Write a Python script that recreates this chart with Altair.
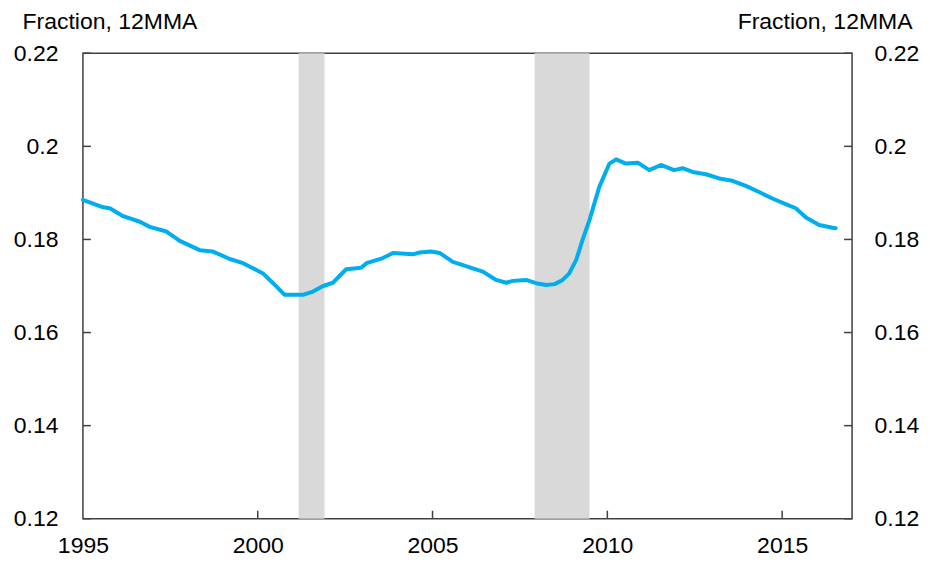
import altair as alt
import pandas as pd

# ---- data ----
years = [1995.0, 1995.58, 1995.77, 1996.15, 1996.63, 1996.91, 1997.39, 1997.77, 1998.34,
         1998.72, 1999.2, 1999.58, 2000.15, 2000.44, 2000.77, 2001.29, 2001.58, 2001.87,
         2002.15, 2002.53, 2002.96, 2003.11, 2003.58, 2003.87, 2004.44, 2004.63, 2004.96,
         2005.2, 2005.58, 2005.87, 2006.15, 2006.44, 2006.82, 2007.11, 2007.29, 2007.68,
         2007.96, 2008.25, 2008.49, 2008.72, 2008.91, 2009.11, 2009.29, 2009.49, 2009.77,
         2010.06, 2010.25, 2010.53, 2010.87, 2011.2, 2011.53, 2011.91, 2012.15, 2012.44,
         2012.82, 2013.2, 2013.58, 2013.96, 2014.34, 2014.72, 2015.1, 2015.39, 2015.68,
         2016.06, 2016.44, 2016.53]
values = [0.1885, 0.1869, 0.1867, 0.1850, 0.1838, 0.1827, 0.1817, 0.1797, 0.1777,
          0.1774, 0.1758, 0.1749, 0.1727, 0.1706, 0.1681, 0.1681, 0.1688, 0.1700,
          0.1707, 0.1736, 0.1739, 0.1749, 0.1760, 0.1771, 0.1768, 0.1772, 0.1774,
          0.1771, 0.1752, 0.1745, 0.1738, 0.1731, 0.1713, 0.1707, 0.1711, 0.1713,
          0.1706, 0.1702, 0.1704, 0.1713, 0.1727, 0.1756, 0.1799, 0.1842, 0.1913,
          0.1963, 0.1972, 0.1963, 0.1965, 0.1949, 0.1960, 0.1949, 0.1953, 0.1945,
          0.1940, 0.1931, 0.1926, 0.1915, 0.1902, 0.1888, 0.1876, 0.1867, 0.1847,
          0.1831, 0.1825, 0.1824]
rec_start = [2001.17, 2007.92]
rec_end = [2001.91, 2009.49]
y_ticks = [0.12, 0.14, 0.16, 0.18, 0.20, 0.22]
x_labels = [1995, 2000, 2005, 2010, 2015]
x_ticks = [2000, 2005, 2010, 2015]
axis_title = "Fraction, 12MMA"

W, H = 770, 466
FONT = "Liberation Sans"
FS = 23
TFS = 23
LINE_COLOR = "#00AEEF"
FRAME = "#404040"

xscale = alt.Scale(domain=[1995, 2017], nice=False, zero=False)
yscale = alt.Scale(domain=[0.12, 0.22], nice=False, zero=False)

series = pd.DataFrame({"year": years, "value": values})
recs = pd.DataFrame({"start": rec_start, "end": rec_end})
yt = pd.DataFrame({"t": y_ticks})
xt = pd.DataFrame({"t": x_ticks})

xaxis = alt.Axis(values=x_labels, format="d", ticks=False, domain=False, grid=False,
                 labelFlush=False, labelPadding=16, title=None)
laxis = alt.Axis(orient="left", values=y_ticks, format="~g", ticks=False,
                 domain=False, grid=False, labelPadding=25,
                 title=axis_title, titleAngle=0, titleAlign="left",
                 titleBaseline="alphabetic", titleX=-61, titleY=-25)
raxis = alt.Axis(orient="right", values=y_ticks, format="~g", ticks=False,
                 domain=False, grid=False, labelPadding=22,
                 title=axis_title, titleAngle=0, titleAlign="right",
                 titleBaseline="alphabetic", titleX=60, titleY=-25)

rec = alt.Chart(recs).mark_rect(color="#D9D9D9").encode(
    x=alt.X("start:Q", scale=xscale, axis=xaxis), x2="end:Q")

line = alt.Chart(series).mark_line(color=LINE_COLOR, strokeWidth=4,
                                   strokeJoin="round", strokeCap="round").encode(
    x=alt.X("year:Q", scale=xscale, axis=xaxis),
    y=alt.Y("value:Q", scale=yscale, axis=laxis))

lticks = alt.Chart(yt).mark_rule(color=FRAME, strokeWidth=1.5).encode(
    y=alt.Y("t:Q", scale=yscale, axis=laxis), x=alt.value(0), x2=alt.value(8))

bticks = alt.Chart(xt).mark_rule(color=FRAME, strokeWidth=1.5).encode(
    x=alt.X("t:Q", scale=xscale, axis=xaxis), y=alt.value(H), y2=alt.value(H - 8))

left = alt.layer(rec, line, lticks, bticks)

rticks = alt.Chart(yt).mark_rule(color=FRAME, strokeWidth=1.5).encode(
    y=alt.Y("t:Q", scale=yscale, axis=raxis),
    x=alt.value(W - 8), x2=alt.value(W))

chart = alt.layer(left, rticks).resolve_scale(y="independent").properties(
    width=W, height=H,
    background="white",
    autosize=alt.AutoSizeParams(type="none"),
    padding={"left": 75, "top": 45, "right": 70, "bottom": 40},
).configure_view(stroke=FRAME, strokeWidth=1.5).configure_axis(
    labelFont=FONT, labelFontSize=FS, labelColor="black",
    titleFont=FONT, titleFontSize=TFS, titleColor="black", titleFontWeight="normal",
)

chart.save("out.html", embed_options={"renderer": "svg", "actions": False})
